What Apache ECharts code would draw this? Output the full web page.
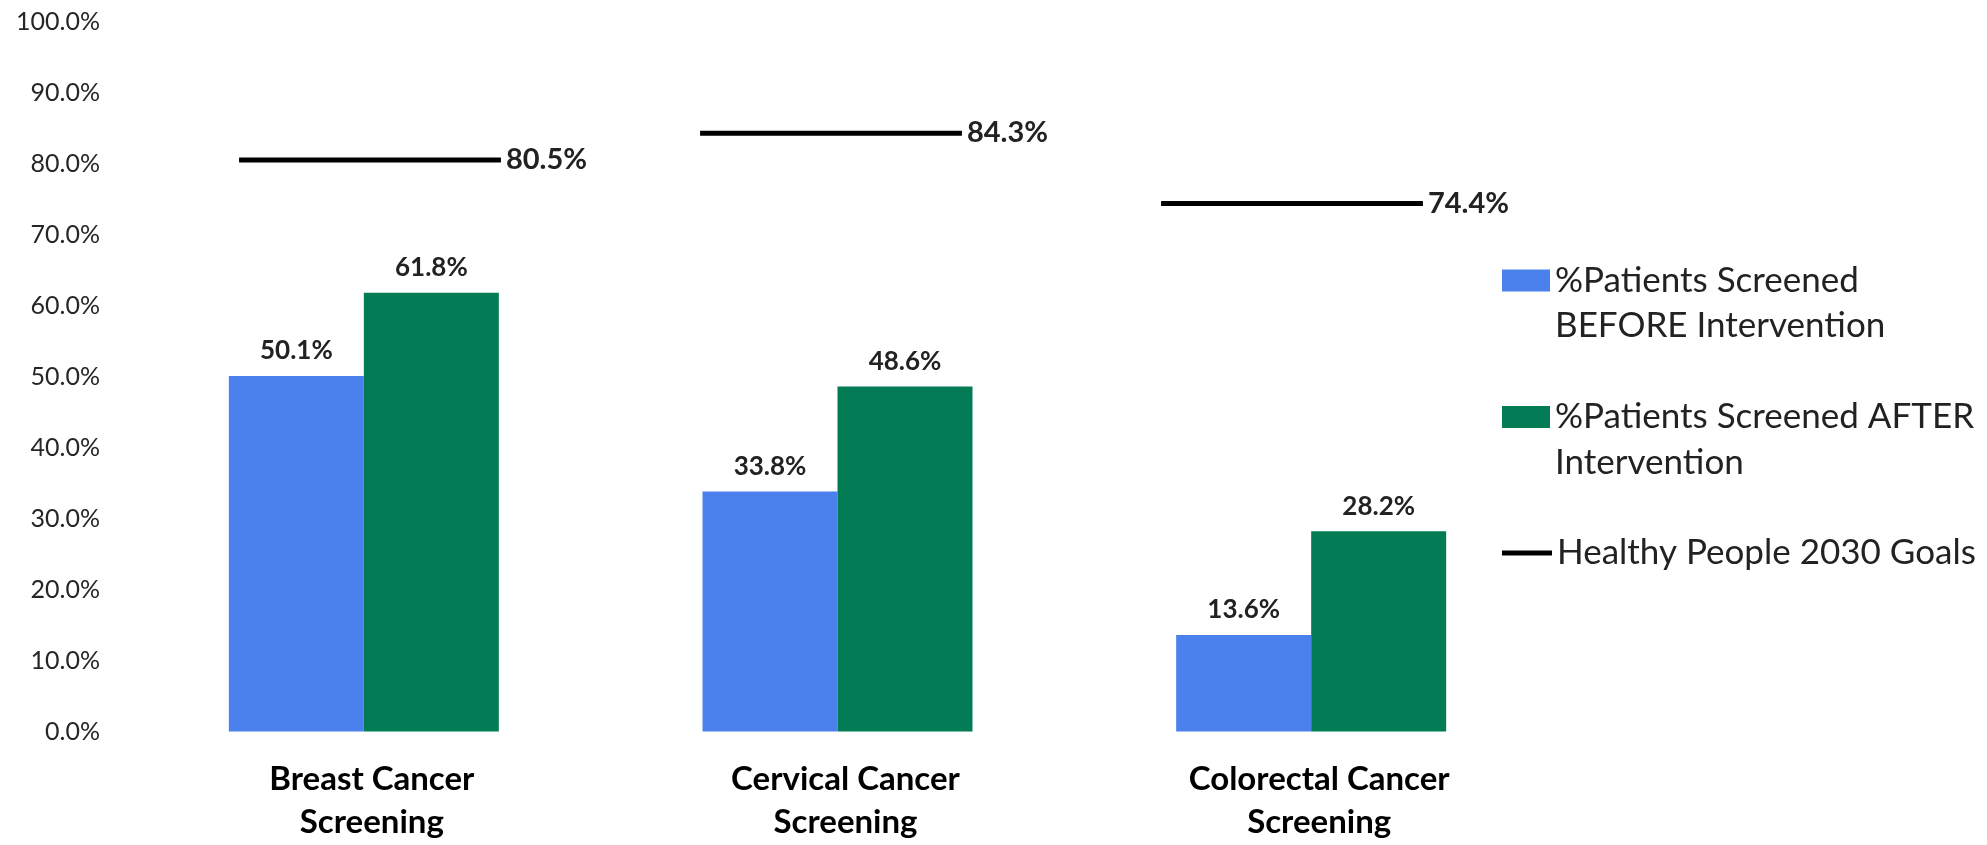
<!DOCTYPE html>
<html>
<head>
<meta charset="utf-8">
<style>
  html, body { margin: 0; padding: 0; background: #ffffff; }
  #chart { width: 1987px; height: 845px; }
</style>
<script src="https://cdn.jsdelivr.net/npm/echarts@6/dist/echarts.min.js"></script>
</head>
<body>
<div id="chart"></div>
<script>
// Screening categories along the x axis
var categories = ['Breast Cancer\nScreening', 'Cervical Cancer\nScreening', 'Colorectal Cancer\nScreening'];

// Percent of patients screened, before and after the intervention
var beforeValues = [50.1, 33.8, 13.6];
var afterValues = [61.8, 48.6, 28.2];

// Healthy People 2030 target for each screening type
var goalValues = [80.5, 84.3, 74.4];

// Value-axis ticks
var yTicks = { min: 0, max: 100, interval: 10 };

var seriesNames = [
  '%Patients Screened BEFORE Intervention',
  '%Patients Screened AFTER Intervention',
  'Healthy People 2030 Goals'
];
// Legend wording, wrapped; a leading blank line keeps the swatch beside the first line
var legendLabels = {
  '%Patients Screened BEFORE Intervention': '\n%Patients Screened\nBEFORE Intervention',
  '%Patients Screened AFTER Intervention': '\n%Patients Screened AFTER\nIntervention',
  'Healthy People 2030 Goals': 'Healthy People 2030 Goals'
};

var BLUE = '#4a81ec';
var GREEN = '#037c56';
var TEXT = '#222222';
var FONT = 'Lato, "Open Sans", sans-serif';
var LEGEND_LINE = 45.6;

function pct(v) { return v.toFixed(1) + '%'; }

var chart = echarts.init(document.getElementById('chart'), null, { renderer: 'canvas' });

var barLabel = {
  show: true,
  position: 'top',
  distance: 12,
  color: TEXT,
  fontFamily: FONT,
  fontWeight: 'bold',
  fontSize: 26,
  formatter: function (p) { return pct(p.value); }
};

var legendText = {
  color: TEXT,
  fontFamily: FONT,
  fontSize: 35,
  lineHeight: LEGEND_LINE
};

function legendFor(name, top, w, h) {
  return {
    data: [name],
    orient: 'vertical',
    left: 1502,
    top: top,
    padding: 0,
    itemWidth: w,
    itemHeight: h,
    itemGap: 0,
    icon: 'rect',
    formatter: function (n) { return legendLabels[n]; },
    textStyle: legendText
  };
}

var option = {
  animation: false,
  backgroundColor: '#ffffff',
  grid: [
    { left: 127, top: 21.7, width: 1421, height: 709.8 },
    // goal segments sit on their own, slightly narrower band layout
    { left: 139.5, top: 21.7, width: 1383, height: 709.8 }
  ],
  xAxis: [
    {
      type: 'category',
      gridIndex: 0,
      data: categories,
      axisLine: { show: false },
      axisTick: { show: false },
      axisLabel: {
        margin: 26,
        color: '#000000',
        fontFamily: FONT,
        fontWeight: 'bold',
        fontSize: 33,
        lineHeight: 43,
        padding: [0, 0, 0, 16]
      }
    },
    {
      type: 'category',
      gridIndex: 1,
      data: categories,
      show: false
    }
  ],
  yAxis: [
    {
      type: 'value',
      gridIndex: 0,
      min: yTicks.min,
      max: yTicks.max,
      interval: yTicks.interval,
      axisLine: { show: false },
      axisTick: { show: false },
      splitLine: { show: false },
      axisLabel: {
        margin: 27,
        color: '#262626',
        fontFamily: FONT,
        fontSize: 25,
        formatter: function (v) { return pct(v); }
      }
    },
    {
      type: 'value',
      gridIndex: 1,
      min: yTicks.min,
      max: yTicks.max,
      interval: yTicks.interval,
      show: false
    }
  ],
  legend: [
    legendFor(seriesNames[0], 280.5 - 1.5 * LEGEND_LINE, 48, 22),
    legendFor(seriesNames[1], 417 - 1.5 * LEGEND_LINE, 48, 22),
    legendFor(seriesNames[2], 553 - 0.5 * LEGEND_LINE, 50, 5)
  ],
  series: [
    {
      name: seriesNames[0],
      type: 'bar',
      xAxisIndex: 0,
      yAxisIndex: 0,
      data: beforeValues,
      barGap: '0%',
      barCategoryGap: '43%',
      itemStyle: { color: BLUE },
      label: barLabel
    },
    {
      name: seriesNames[1],
      type: 'bar',
      xAxisIndex: 0,
      yAxisIndex: 0,
      data: afterValues,
      barGap: '0%',
      barCategoryGap: '43%',
      itemStyle: { color: GREEN },
      label: barLabel
    },
    {
      name: seriesNames[2],
      type: 'custom',
      xAxisIndex: 1,
      yAxisIndex: 1,
      itemStyle: { color: '#000000' },
      data: goalValues.map(function (v, i) { return [i, v]; }),
      renderItem: function (params, api) {
        var c = api.coord([api.value(0), api.value(1)]);
        var half = api.size([1, 0])[0] * 0.284;
        return {
          type: 'group',
          children: [
            {
              type: 'line',
              shape: { x1: c[0] - half, y1: c[1], x2: c[0] + half, y2: c[1] },
              style: { stroke: '#000000', lineWidth: 5 }
            },
            {
              type: 'text',
              style: {
                text: pct(api.value(1)),
                x: c[0] + half + 5,
                y: c[1],
                align: 'left',
                verticalAlign: 'middle',
                fill: TEXT,
                fontFamily: FONT,
                fontWeight: 'bold',
                fontSize: 29
              }
            }
          ]
        };
      }
    }
  ]
};

chart.setOption(option);
</script>
</body>
</html>
